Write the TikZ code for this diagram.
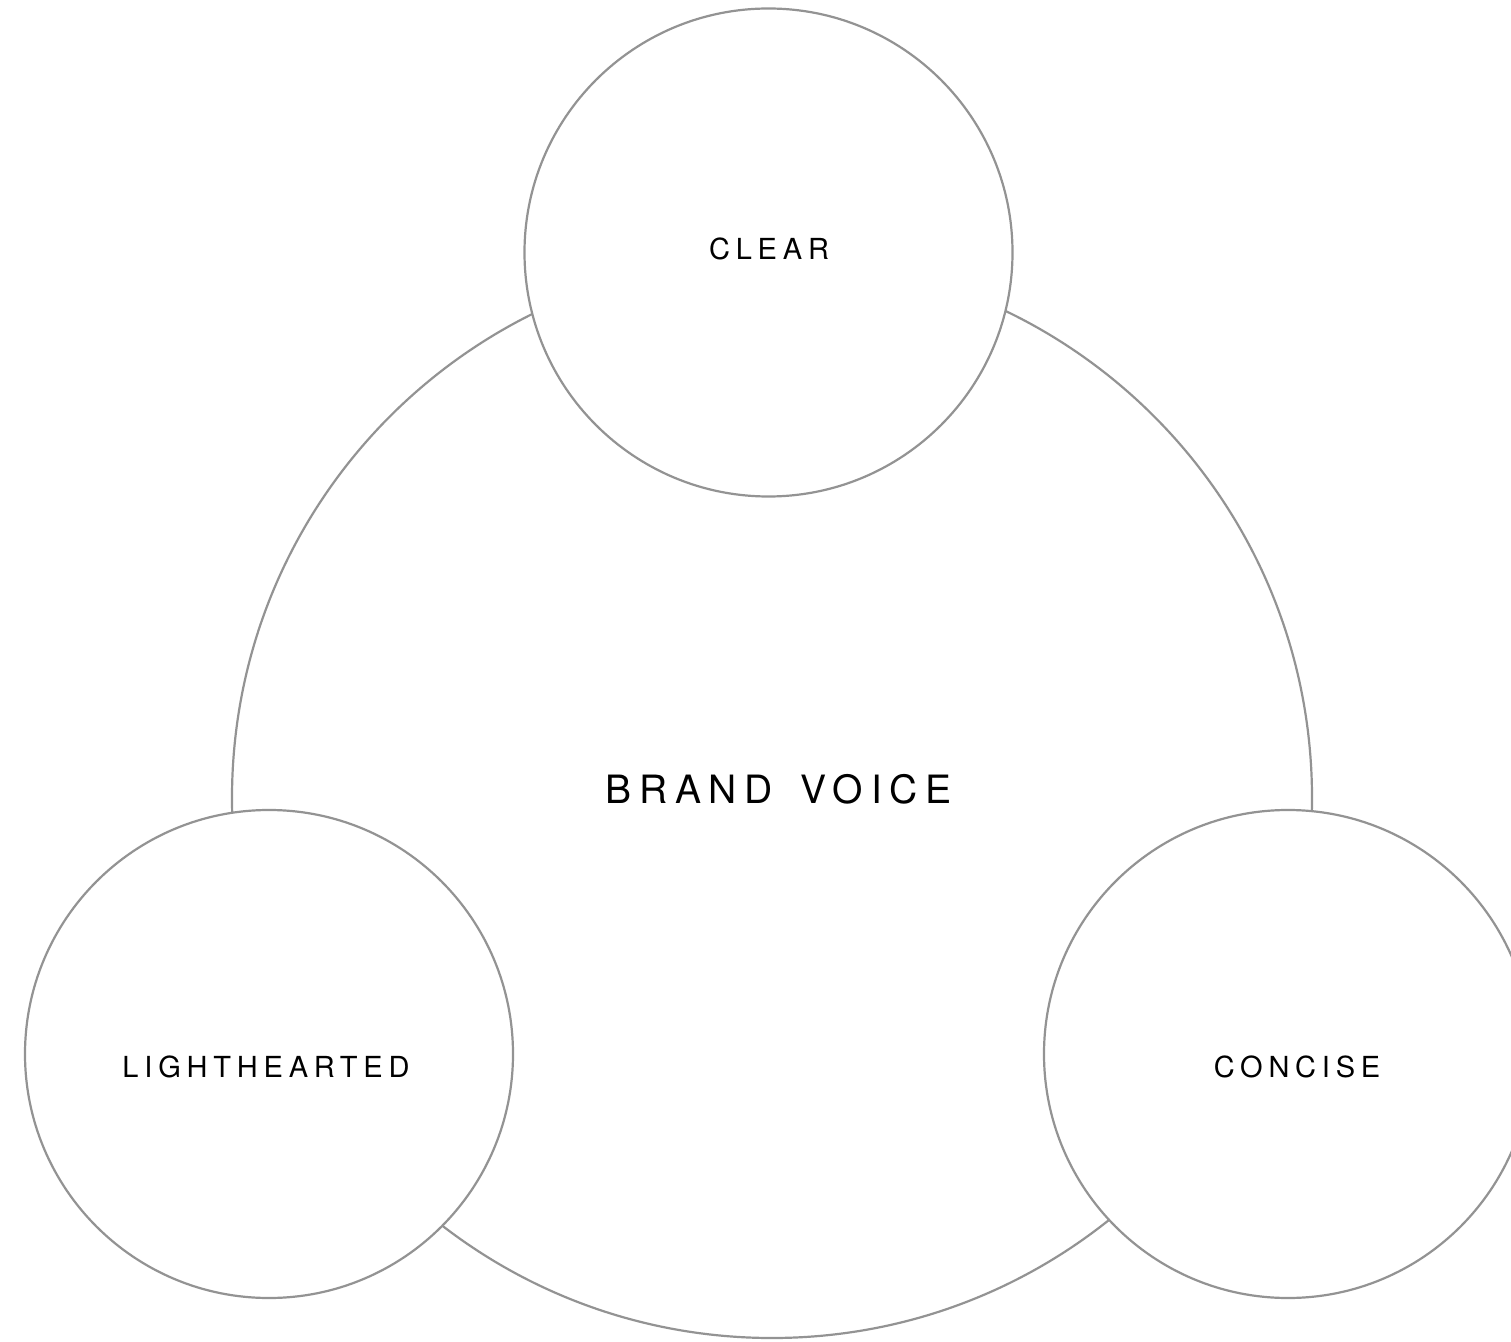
\documentclass[tikz,border=0pt]{standalone}
\usepackage{fontspec}
\setmainfont{TeX Gyre Heros}
\newfontfamily\bigspaced[LetterSpace=20]{TeX Gyre Heros}
\newfontfamily\smallspaced[LetterSpace=20]{TeX Gyre Heros}
\definecolor{ring}{HTML}{939393}
\begin{document}
\begin{tikzpicture}[x=0.5pt,y=-0.5pt,
  ringline/.style={draw=ring,line width=1.1pt},
  bigcircle/.style={ringline,circle,minimum size=540pt,inner sep=0pt},
  smallcircle/.style={ringline,fill=white,circle,minimum size=244pt,inner sep=0pt},
  biglabel/.style={font=\bigspaced\fontsize{19.5pt}{19.5pt}\selectfont,inner sep=0pt,text depth=0pt},
  smalllabel/.style={font=\smallspaced\fontsize{14.5pt}{14.5pt}\selectfont,inner sep=0pt,text depth=0pt}]
\useasboundingbox (0,0) rectangle (1511,1342);
\clip (0,0) rectangle (1511,1342);
\node[bigcircle] (voice) at (772,798) {};
\node[smallcircle] (clear) at (768.5,252.5) {};
\node[smallcircle] (light) at (269,1054) {};
\node[smallcircle] (concise) at (1288,1054) {};
\node[biglabel] (voicetext) at (778.5,789) {BRAND\hspace{4.5pt} VOICE};
\node[smalllabel] (cleartext) at (769,248.5) {CLEAR};
\node[smalllabel] (lighttext) at (266,1067) {LIGHTHEARTED};
\node[smalllabel] (concisetext) at (1297,1067) {CONCISE};
\end{tikzpicture}
\end{document}
